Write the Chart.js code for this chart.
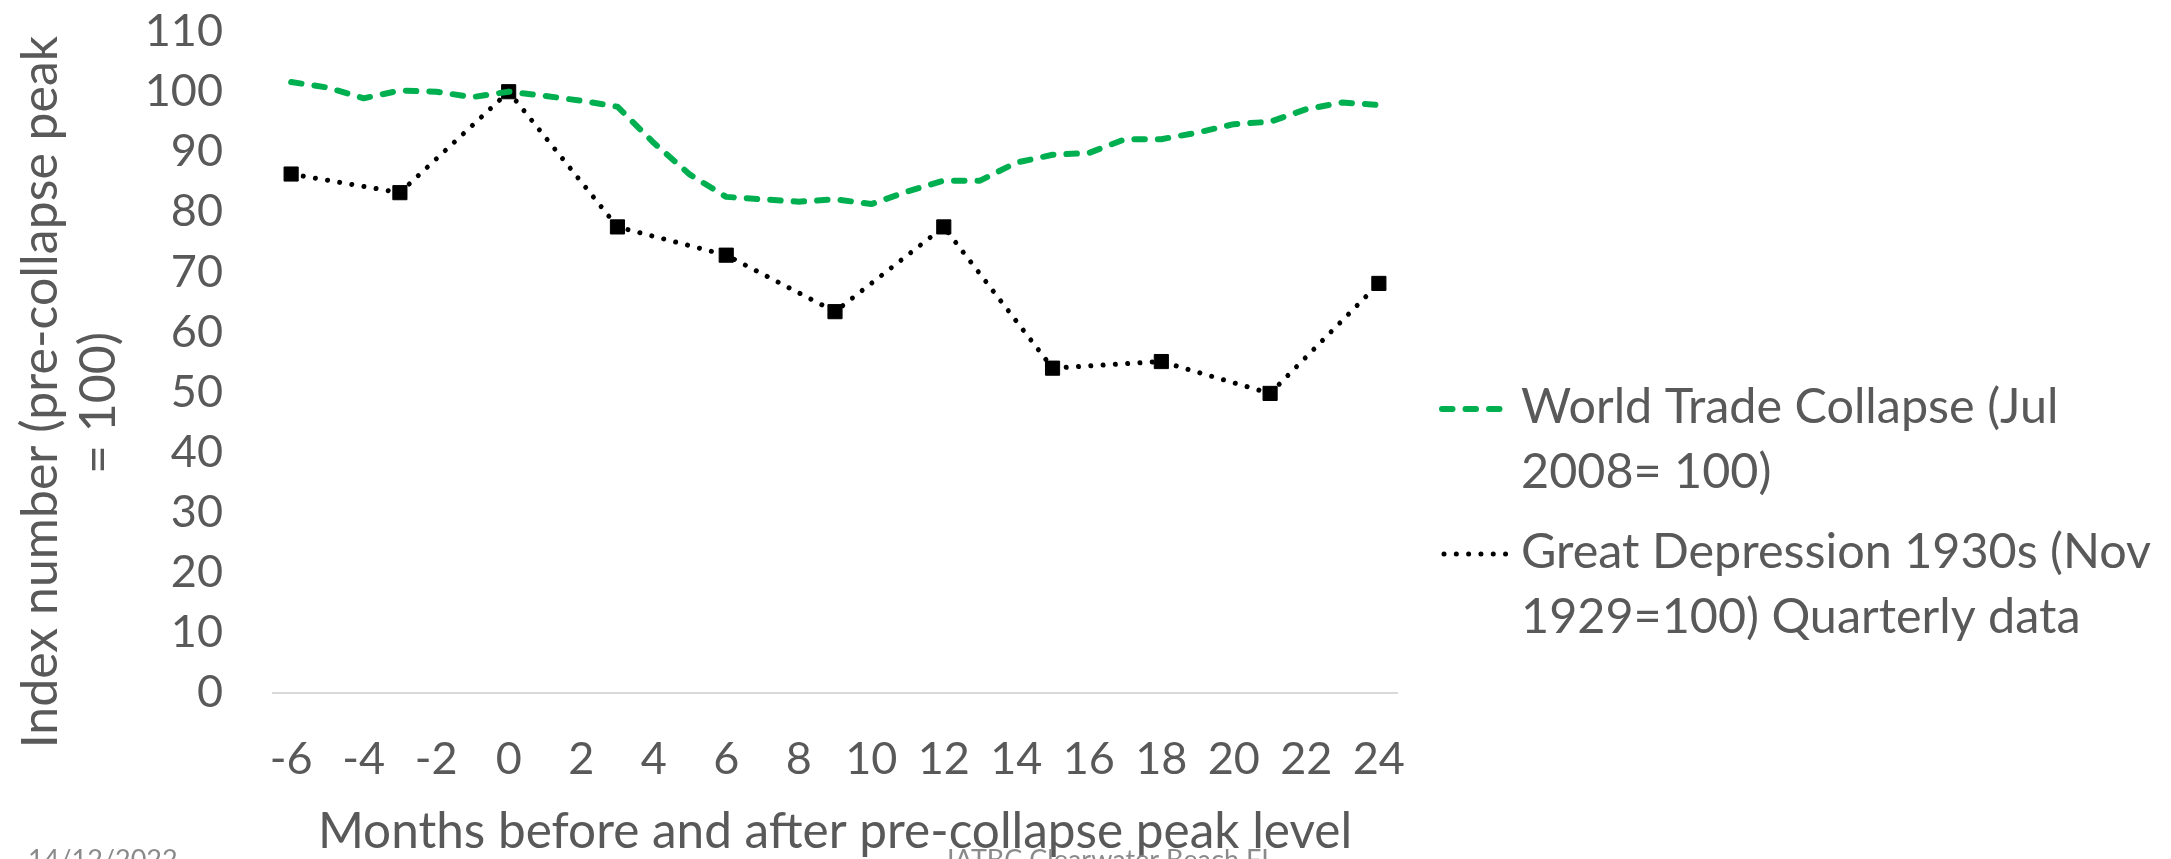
<!DOCTYPE html>
<html>
<head>
<meta charset="utf-8">
<script src="https://cdn.jsdelivr.net/npm/chart.js@4/dist/chart.umd.min.js"></script>
<style>
  html, body { margin: 0; padding: 0; background: #ffffff; }
  #wrap { width: 2171px; height: 859px; position: relative; }
</style>
</head>
<body>
<div id="wrap"><canvas id="chart" width="2171" height="859"></canvas></div>
<script>
// Months relative to the pre-collapse peak (monthly axis, labels every 2 months)
const months = [-6, -5, -4, -3, -2, -1, 0, 1, 2, 3, 4, 5, 6, 7, 8, 9, 10, 11, 12,
                13, 14, 15, 16, 17, 18, 19, 20, 21, 22, 23, 24];

// World trade collapse, monthly index (Jul 2008 = 100)
const worldTrade = [101.6, 100.7, 98.9, 100.2, 100.0, 99.1, 100.0, 99.3, 98.5, 97.5,
                    91.5, 86.2, 82.5, 82.1, 81.7, 82.1, 81.3, 83.4, 85.2, 85.2,
                    88.2, 89.5, 89.8, 92.1, 92.1, 93.2, 94.6, 95.0, 97.1, 98.2, 97.8];

// Great Depression, quarterly index (Nov 1929 = 100)
const quarterMonths = [-6, -3, 0, 3, 6, 9, 12, 15, 18, 21, 24];
const greatDepression = [86.3, 83.2, 100.0, 77.5, 72.8, 63.4, 77.5, 54.0, 55.1, 49.8, 68.1];

const yTicks = { min: 0, max: 110, step: 10 };

const legendLines = [
  ['World Trade Collapse (Jul', '2008= 100)'],
  ['Great Depression 1930s (Nov', '1929=100) Quarterly data']
];
const yTitleLines = ['Index number (pre-collapse peak', '= 100)'];
const xTitle = 'Months before and after pre-collapse peak level';
const footerDate = '14/12/2022';
const footerPlace = 'IATBC Clearwater Beach FL';

const TEXT = '#595959';
const FONT = 'Lato, "Open Sans", sans-serif';

// Axis titles, legend and slide footer drawn on the canvas
const annotations = {
  id: 'annotations',
  afterDraw(chart) {
    const ctx = chart.ctx;
    ctx.save();
    ctx.fillStyle = TEXT;
    ctx.textBaseline = 'alphabetic';

    // vertical axis title (two lines, rotated)
    ctx.font = '50px ' + FONT;
    ctx.textAlign = 'center';
    [[57, 392], [115, 403]].forEach(([bx, cy], i) => {
      ctx.save();
      ctx.translate(bx, cy);
      ctx.rotate(-Math.PI / 2);
      ctx.fillText(yTitleLines[i], 0, 0);
      ctx.restore();
    });

    // horizontal axis title, centred under the plot area
    const area = chart.chartArea;
    ctx.font = '49.5px ' + FONT;
    ctx.fillText(xTitle, (area.left + area.right) / 2, 848);

    // legend
    const ds = chart.data.datasets;
    const entries = [
      { d: ds[0], x1: 1442, x2: 1507, y: 409, base: [423, 488] },
      { d: ds[1], x1: 1444, x2: 1506, y: 554, base: [568, 633] }
    ];
    entries.forEach((e, i) => {
      ctx.save();
      ctx.strokeStyle = e.d.borderColor;
      ctx.lineWidth = e.d.borderWidth;
      ctx.lineCap = 'round';
      ctx.setLineDash(e.d.borderDash);
      ctx.beginPath();
      ctx.moveTo(e.x1, e.y);
      ctx.lineTo(e.x2, e.y);
      ctx.stroke();
      ctx.restore();
      ctx.font = '48.5px ' + FONT;
      ctx.textAlign = 'left';
      legendLines[i].forEach((t, j) => ctx.fillText(t, 1521, e.base[j]));
    });

    // footer (partly below the bottom edge)
    ctx.fillStyle = '#8a8a8a';
    ctx.font = '27px ' + FONT;
    ctx.textAlign = 'left';
    ctx.fillText(footerDate, 28, 869);
    ctx.textAlign = 'center';
    ctx.fillText(footerPlace, 1111, 869);
    ctx.restore();
  }
};

new Chart(document.getElementById('chart'), {
  type: 'line',
  data: {
    labels: months,
    datasets: [
      {
        label: legendLines[0].join(' '),
        data: worldTrade,
        borderColor: '#00b050',
        backgroundColor: '#00b050',
        borderWidth: 6,
        borderDash: [10.5, 13],
        borderCapStyle: 'round',
        borderJoinStyle: 'round',
        pointRadius: 0,
        tension: 0
      },
      {
        label: legendLines[1].join(' '),
        data: quarterMonths.map((m, i) => ({ x: m, y: greatDepression[i] })),
        borderColor: '#000000',
        backgroundColor: '#000000',
        borderWidth: 5,
        borderDash: [0.01, 12.3],
        borderCapStyle: 'round',
        borderJoinStyle: 'round',
        pointStyle: 'rect',
        pointRadius: 10,
        pointBorderWidth: 1,
        pointBackgroundColor: '#000000',
        pointBorderColor: '#000000',
        spanGaps: true,
        tension: 0
      }
    ]
  },
  options: {
    responsive: false,
    animation: false,
    devicePixelRatio: 1,
    layout: { padding: { left: 0, right: 774, top: 31.6, bottom: 0 } },
    plugins: {
      legend: { display: false },
      tooltip: { enabled: false },
      title: { display: false }
    },
    scales: {
      x: {
        type: 'category',
        offset: true,
        grid: { display: false, drawTicks: false },
        border: { display: true, color: '#d9d9d9', width: 2 },
        ticks: {
          autoSkip: false,
          maxRotation: 0,
          minRotation: 0,
          padding: 40,
          color: TEXT,
          font: { family: FONT, size: 45 },
          callback(value) {
            const m = this.getLabelForValue(value);
            return Number(m) % 2 === 0 ? String(m) : '';
          }
        },
        afterFit(scale) { scale.height = 166.3; }
      },
      y: {
        min: yTicks.min,
        max: yTicks.max,
        grid: { display: false, drawTicks: false },
        border: { display: false },
        ticks: {
          stepSize: yTicks.step,
          padding: 50,
          color: TEXT,
          font: { family: FONT, size: 45 }
        },
        afterFit(scale) {
          scale.width = 273;
          scale.paddingTop = 0;
          scale.paddingBottom = 0;
        }
      }
    }
  },
  plugins: [annotations]
});
</script>
</body>
</html>
